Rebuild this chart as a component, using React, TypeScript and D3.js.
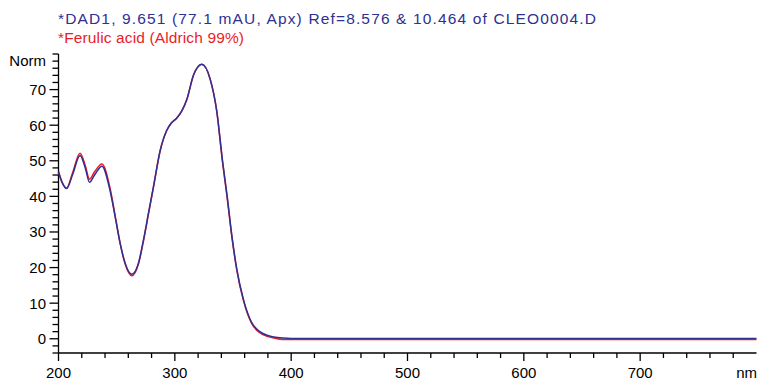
import { useRef, useEffect } from 'react'
import * as d3 from 'd3'

// wavelength (nm) samples
const wavelengths = [200, 203, 207, 212, 218.5, 223, 226.6, 231, 237.3, 244.4, 248.7, 253, 257.3, 263, 268.7, 273, 277.3, 281.6, 287.4, 293, 297, 301.7, 306, 310.3, 316, 323.2, 330.3, 336, 341, 345, 349, 353.3, 359, 366, 373, 380, 385, 393, 400, 800]

// DAD1 spectrum at 9.651 min
const dadValues = [46.9, 44.0, 42.2, 46.0, 51.5, 48.0, 44.0, 46.0, 48.5, 41.5, 34.3, 26.8, 21.2, 18.1, 21.2, 27.7, 35.2, 42.7, 52.9, 58.5, 60.6, 62.0, 64.0, 67.2, 74.0, 77.1, 73.0, 64.0, 50.0, 40.0, 29.0, 19.5, 11.0, 4.6, 2.0, 0.9, 0.5, 0.2, 0.1, 0.1]

// library reference spectrum
const refValues = [46.9, 44.0, 42.3, 46.5, 52.1, 48.7, 44.8, 46.9, 49.1, 42.2, 34.6, 26.8, 21.0, 17.7, 21.0, 27.4, 35.0, 42.5, 52.8, 58.5, 60.6, 62.0, 64.0, 67.2, 74.0, 77.1, 73.0, 64.0, 49.6, 39.6, 28.7, 19.2, 10.7, 4.3, 1.7, 0.6, 0.2, -0.2, -0.2, -0.2]

const xMajor = [200, 300, 400, 500, 600, 700]
const yMajor = [0, 10, 20, 30, 40, 50, 60, 70]

const titleLines = [
  { text: '*DAD1, 9.651 (77.1 mAU, Apx) Ref=8.576 & 10.464 of CLEO0004.D', color: '#2e3092', len: 538 },
  { text: '*Ferulic acid (Aldrich 99%)', color: '#ec1c24', len: 186 },
]

const FONT = '"Liberation Sans", Arial, Helvetica, sans-serif'

export default function App() {
  const svgRef = useRef<SVGSVGElement | null>(null)

  useEffect(() => {
    const el = svgRef.current
    if (!el) return
    const W = 759, H = 380
    const svg = d3.select(el)
    svg.selectAll('*').remove()
    svg.attr('width', W).attr('height', H).attr('viewBox', `0 0 ${W} ${H}`)

    const x = d3.scaleLinear().domain([200, 800]).range([58.5, 756.5])
    const y = d3.scaleLinear().domain([-4, 80]).range([353, 54])

    titleLines.forEach((t, i) => {
      svg.append('text').attr('x', 58).attr('y', 24 + i * 19.3)
        .attr('font-family', FONT).attr('font-size', 15.5).attr('fill', t.color)
        .attr('textLength', t.len).attr('lengthAdjust', 'spacing')
        .text(t.text)
    })

    // axes
    const ax = svg.append('g').attr('stroke', '#000').attr('stroke-width', 1.3)
    ax.append('line').attr('x1', x(200)).attr('x2', x(800)).attr('y1', y(-4)).attr('y2', y(-4))
    ax.append('line').attr('x1', x(200)).attr('x2', x(200)).attr('y1', y(-4)).attr('y2', y(80))

    d3.range(200, 800, 20).forEach(v => {
      const major = v % 100 === 0
      ax.append('line').attr('x1', x(v)).attr('x2', x(v))
        .attr('y1', y(-4)).attr('y2', y(-4) + (major ? 8 : 5))
    })
    d3.range(-4, 81, 2).forEach(v => {
      const major = v % 10 === 0 && v >= 0 && v <= 70
      ax.append('line').attr('x1', x(200) - (major ? 9 : 6)).attr('x2', x(200))
        .attr('y1', y(v)).attr('y2', y(v))
    })

    xMajor.forEach(v => {
      svg.append('text').attr('x', x(v)).attr('y', 378)
        .attr('text-anchor', 'middle').attr('font-family', FONT).attr('font-size', 15).attr('fill', '#000')
        .text(v)
    })
    svg.append('text').attr('x', 757).attr('y', 378)
      .attr('text-anchor', 'end').attr('font-family', FONT).attr('font-size', 15).attr('fill', '#000')
      .text('nm')

    yMajor.forEach(v => {
      svg.append('text').attr('x', 46).attr('y', y(v) + 5.5)
        .attr('text-anchor', 'end').attr('font-family', FONT).attr('font-size', 15).attr('fill', '#000')
        .text(v)
    })
    svg.append('text').attr('x', 46).attr('y', 66)
      .attr('text-anchor', 'end').attr('font-family', FONT).attr('font-size', 15).attr('fill', '#000')
      .text('Norm')

    const line = d3.line<[number, number]>()
      .x(d => x(d[0])).y(d => y(d[1]))
      .curve(d3.curveMonotoneX)

    const series = [
      { values: refValues, color: '#ec1c24' },
      { values: dadValues, color: '#2e3092' },
    ]
    series.forEach(s => {
      const pts = wavelengths.map((w, i) => [w, s.values[i]] as [number, number])
      svg.append('path').attr('d', line(pts) || '')
        .attr('fill', 'none').attr('stroke', s.color).attr('stroke-width', 1.5)
        .attr('stroke-linejoin', 'round')
    })
  }, [])

  return (
    <svg ref={svgRef} style={{ position: 'absolute', left: 0, top: 0, display: 'block', background: '#fff' }} />
  )
}
